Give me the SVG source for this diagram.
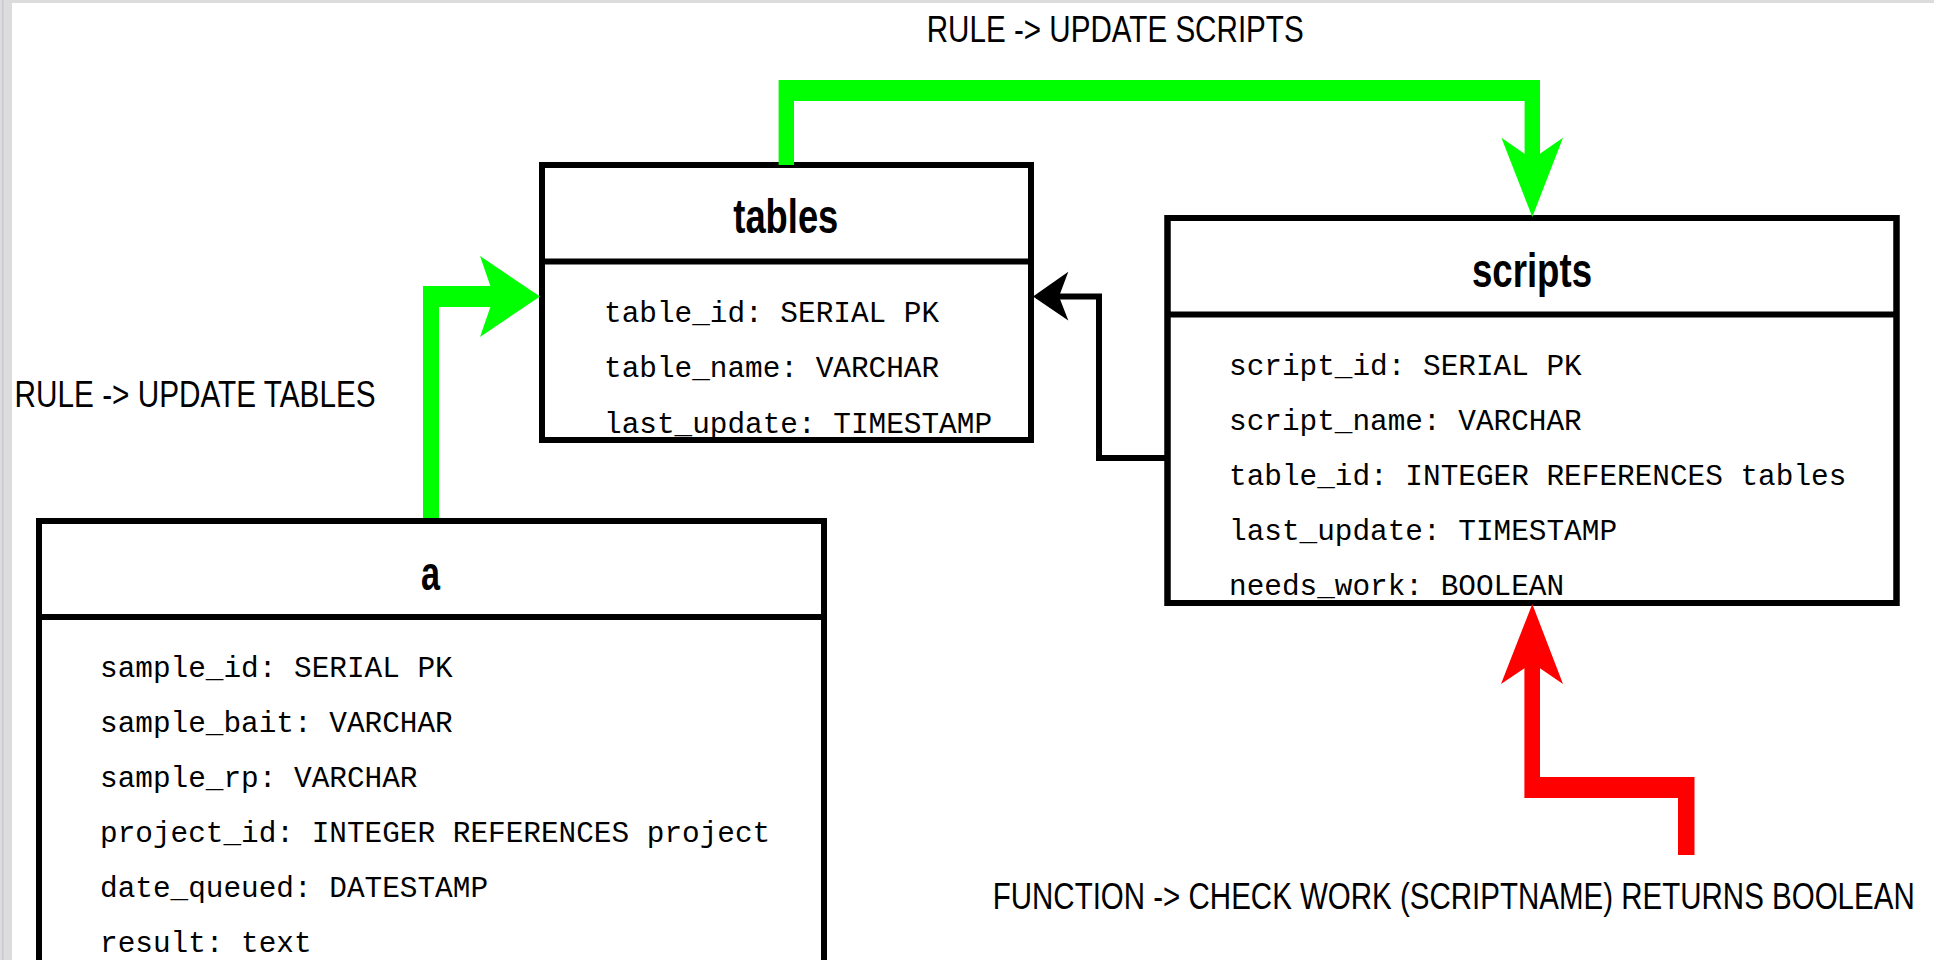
<svg xmlns="http://www.w3.org/2000/svg" width="1934" height="960" viewBox="0 0 1934 960">
<style>
.box{fill:#ffffff;stroke:#000000;stroke-width:6}
.sep{stroke:#000000;stroke-width:6}
.title{font-family:"Liberation Sans",Arial,sans-serif;font-weight:bold;font-size:48px;fill:#000;text-anchor:middle}
.field{font-family:"Liberation Mono","Courier New",monospace;font-size:29.4px;fill:#000}
.label{font-family:"Liberation Sans",Arial,sans-serif;font-size:37px;fill:#000}
.green{fill:#00ff00}
.red{fill:#ff0000}
.blk{fill:none;stroke:#000;stroke-width:6}
</style>
<rect x="0" y="0" width="1934" height="960" fill="#ffffff"/>
<rect x="0" y="0" width="1934" height="3" fill="#dcdcdc"/>
<rect x="0" y="0" width="12" height="960" fill="#dcdcdc"/>
<rect x="2" y="0" width="1.5" height="960" fill="#c8c8d2"/>

<g id="node-tables">
<rect class="box" x="542" y="165" width="489" height="275"/>
<line class="sep" x1="542" y1="261.5" x2="1031" y2="261.5"/>
<text class="title" x="785.8" y="233.3" textLength="105" lengthAdjust="spacingAndGlyphs">tables</text>
<text class="field" x="604" y="322.3">table_id: SERIAL PK</text>
<text class="field" x="604" y="377.3">table_name: VARCHAR</text>
<text class="field" x="604" y="432.5">last_update: TIMESTAMP</text>
<rect x="542" y="165" width="489" height="275" fill="none" stroke="#000" stroke-width="6"/>
</g>

<g id="node-scripts">
<rect class="box" x="1167.5" y="218" width="729" height="385"/>
<line class="sep" x1="1167.5" y1="314.5" x2="1896.5" y2="314.5"/>
<text class="title" x="1532" y="286.7" textLength="120" lengthAdjust="spacingAndGlyphs">scripts</text>
<text class="field" x="1229" y="375">script_id: SERIAL PK</text>
<text class="field" x="1229" y="430">script_name: VARCHAR</text>
<text class="field" x="1229" y="485">table_id: INTEGER REFERENCES tables</text>
<text class="field" x="1229" y="540">last_update: TIMESTAMP</text>
<text class="field" x="1229" y="595">needs_work: BOOLEAN</text>
<rect x="1167.5" y="218" width="729" height="385" fill="none" stroke="#000" stroke-width="6"/>
</g>

<g id="node-a">
<rect class="box" x="39" y="521" width="785" height="480"/>
<line class="sep" x1="39" y1="617" x2="824" y2="617"/>
<text class="title" x="430.5" y="590" textLength="19" lengthAdjust="spacingAndGlyphs">a</text>
<text class="field" x="100" y="676.7">sample_id: SERIAL PK</text>
<text class="field" x="100" y="731.7">sample_bait: VARCHAR</text>
<text class="field" x="100" y="786.7">sample_rp: VARCHAR</text>
<text class="field" x="100" y="841.7">project_id: INTEGER REFERENCES project</text>
<text class="field" x="100" y="896.7">date_queued: DATESTAMP</text>
<text class="field" x="100" y="951.7">result: text</text>
</g>

<g id="connectors">
<g id="edge-a-tables">
<path class="green" d="M423,518 L423,286 L494,286 L494,307 L439,307 L439,518 Z"/>
<polygon class="green" points="540,296.5 480,256 494,296.5 480,337"/>
</g>
<g id="edge-tables-scripts">
<path class="green" d="M778.6,165 L778.6,80 L1540,80 L1540,160 L1524.6,160 L1524.6,101 L794,101 L794,165 Z"/>
<polygon class="green" points="1532.3,217 1501.4,137.7 1532.3,159 1563,137.7"/>
</g>
<g id="edge-function-scripts">
<path class="red" d="M1678,855 L1678,798 L1524.4,798 L1524.4,662 L1540,662 L1540,777 L1694.5,777 L1694.5,855 Z"/>
<polygon class="red" points="1532.3,604 1501,684 1532.3,663 1563,684"/>
</g>
<g id="edge-scripts-tables">
<path class="blk" d="M1167,458 L1099,458 L1099,296.5 L1058,296.5"/>
<polygon fill="#000" points="1033,296.5 1068.3,271.7 1059,296.5 1068.3,320.5"/>
</g>
<text class="label" x="926.7" y="41.7" textLength="377" lengthAdjust="spacingAndGlyphs">RULE -&gt; UPDATE SCRIPTS</text>
<text class="label" x="14.6" y="406.7" textLength="361" lengthAdjust="spacingAndGlyphs">RULE -&gt; UPDATE TABLES</text>
<text class="label" x="992.7" y="909.3" textLength="922" lengthAdjust="spacingAndGlyphs">FUNCTION -&gt; CHECK WORK (SCRIPTNAME) RETURNS BOOLEAN</text>
</g>
</svg>
